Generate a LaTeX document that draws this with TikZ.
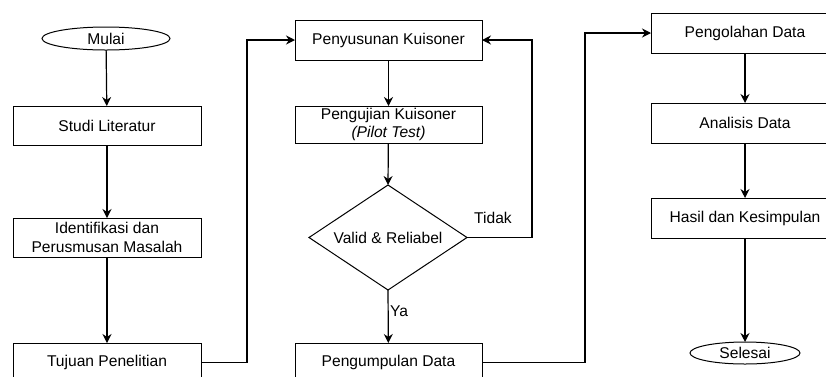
\documentclass[tikz,border=0pt]{standalone}
\usepackage{fontspec}
\setmainfont{Liberation Sans}
\usetikzlibrary{shapes.geometric,arrows.meta,positioning}
\begin{document}
\begin{tikzpicture}[x=1pt,y=-1pt,
  font=\fontsize{15.6}{18.5}\selectfont,
  every node/.style={inner sep=0pt, outer sep=0pt},
  procbox/.style={draw, line width=1pt, rectangle, minimum width=188pt, minimum height=39pt, align=center},
  terminal/.style={draw, line width=1pt, ellipse, minimum width=128pt, minimum height=23pt},
  decision/.style={draw, line width=1pt, diamond, minimum width=158pt, minimum height=105pt, aspect=1.5},
  flow/.style={line width=1.2pt, -{Stealth[length=9pt,width=9pt]}},
  lbl/.style={font=\fontsize{15.6}{18.5}\selectfont}
]
\useasboundingbox (0,0) rectangle (826,376);
\clip (0,0) rectangle (826,376);

% first column
\node[terminal] (mulai) at (106,38.5) {Mulai};
\node[procbox] (studi) at (107,125.5) {Studi Literatur};
\node[procbox] (ident) at (107,237.5) {Identifikasi dan\\Perusmusan Masalah};
\node[procbox] (tujuan) at (107,362.5) {Tujuan Penelitian};

% second column
\node[procbox, minimum width=187pt, minimum height=40pt] (susun) at (388.5,40) {Penyusunan Kuisoner};
\node[procbox, minimum width=187pt, minimum height=37pt] (uji) at (388.5,124.5) {Pengujian Kuisoner\\\textit{(Pilot Test)}};
\node[decision] (valid) at (388,237.5) {};
\node at (388,237.5) {Valid \& Reliabel};
\node[procbox, minimum width=187pt] (kumpul) at (388.5,362.5) {Pengumpulan Data};

% third column
\node[procbox, minimum height=40pt] (olah) at (745,33) {Pengolahan Data};
\node[procbox, minimum height=40pt] (analisis) at (745,123) {Analisis Data};
\node[procbox, minimum height=40pt] (hasil) at (745,218) {Hasil dan Kesimpulan};
\node[terminal, minimum width=110pt, minimum height=22pt] (selesai) at (745,353) {Selesai};

% connectors
\draw[flow] (mulai) -- (studi);
\draw[flow] (studi) -- (ident);
\draw[flow] (ident) -- (tujuan);
\draw[flow] (tujuan.east) -- ++(46,0) |- (susun.west);

\draw[flow] (susun) -- (uji);
\draw[flow] (uji) -- (valid.north);
\draw[flow] (valid.east) -- ++(65,0) |- (susun.east);
\node[lbl] (tidak) at (493,218) {Tidak};
\draw[flow] (valid.south) -- node[lbl, right=2pt, pos=0.4] (ya) {Ya} (kumpul);
\draw[flow] (kumpul.east) -- ++(103,0) |- (olah.west);

\draw[flow] (olah) -- (analisis);
\draw[flow] (analisis) -- (hasil);
\draw[flow] (hasil) -- (selesai);
\end{tikzpicture}
\end{document}
